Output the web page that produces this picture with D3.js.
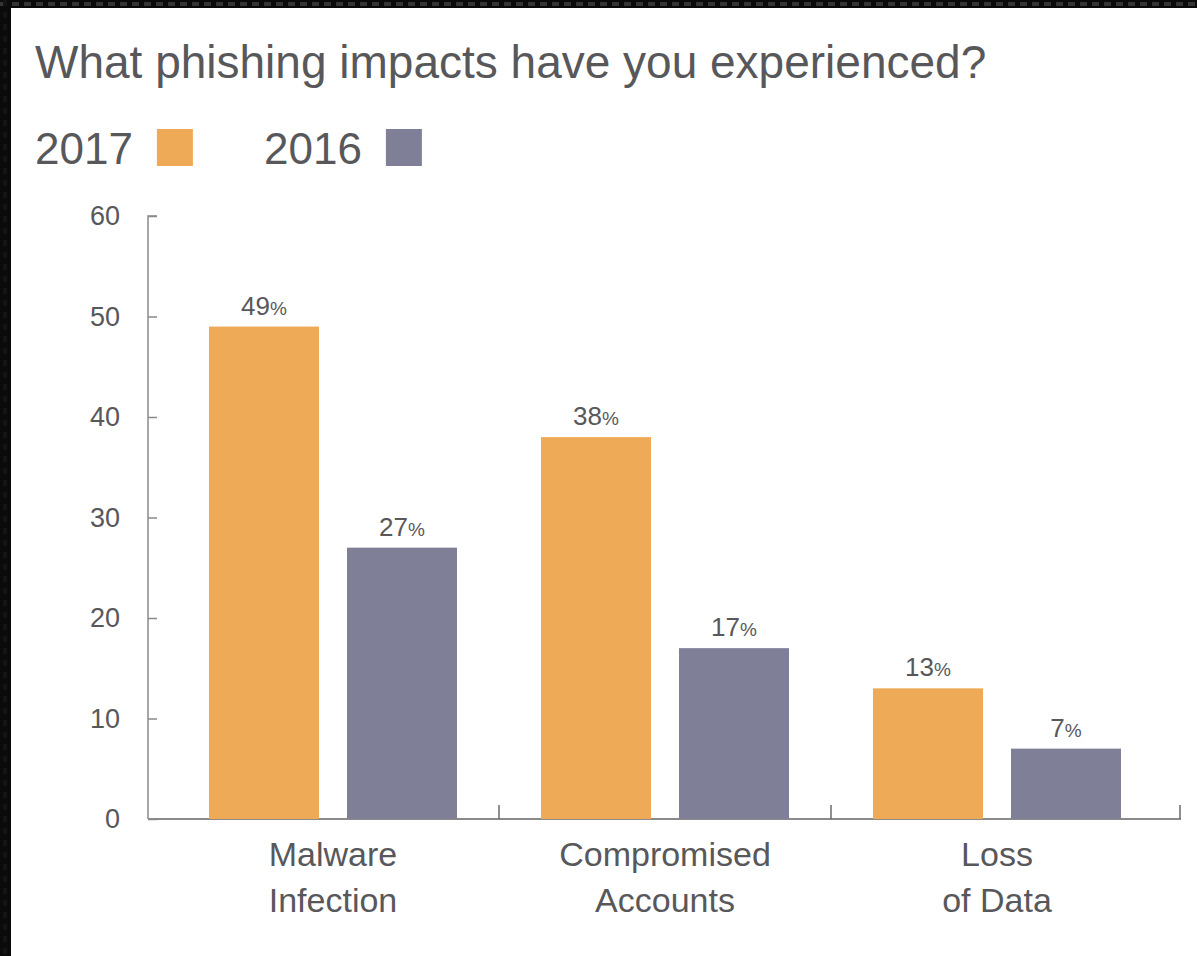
<!DOCTYPE html>
<html>
<head>
<meta charset="utf-8">
<script src="https://cdn.jsdelivr.net/npm/d3@7"></script>
<style>
  html, body { margin: 0; padding: 0; background: #0b0b0b; }
  svg { display: block; }
  text { font-family: "Liberation Sans", Arial, Helvetica, sans-serif; fill: #58585b; }
</style>
</head>
<body>
<svg id="chart" width="1197" height="956"></svg>
<script>
// Survey data: share of respondents reporting each phishing impact
const categories = [["Malware", "Infection"], ["Compromised", "Accounts"], ["Loss", "of Data"]];
const years = ["2017", "2016"];
const values2017 = [49, 38, 13];
const values2016 = [27, 17, 7];
const yTicks = [0, 10, 20, 30, 40, 50, 60];

const colors = { "2017": "#efaa57", "2016": "#7f8098" };
const seriesValues = { "2017": values2017, "2016": values2016 };

const svg = d3.select("#chart");

// dark frame on the left and top, white panel for the chart
svg.append("rect").attr("x", 0).attr("y", 0).attr("width", 1197).attr("height", 956).attr("fill", "#0b0b0b");
svg.append("line").attr("x1", 0).attr("x2", 1197).attr("y1", 4).attr("y2", 4)
  .attr("stroke", "#353535").attr("stroke-width", 4).attr("stroke-dasharray", "7 5");
svg.append("line").attr("x1", 5).attr("x2", 5).attr("y1", 0).attr("y2", 956)
  .attr("stroke", "#141414").attr("stroke-width", 4).attr("stroke-dasharray", "6 6");
svg.append("rect").attr("x", 11).attr("y", 8).attr("width", 1186).attr("height", 948).attr("fill", "#ffffff");

// title
svg.append("text").attr("x", 35).attr("y", 78)
  .style("font-size", "46px").text("What phishing impacts have you experienced?");

// legend
const legendX = [35, 264];
years.forEach((yr, i) => {
  const t = svg.append("text").attr("x", legendX[i]).attr("y", 164)
    .style("font-size", "44px").text(yr);
  const w = t.node().getComputedTextLength();
  svg.append("rect").attr("x", legendX[i] + w + 24).attr("y", 129)
    .attr("width", 36).attr("height", 37).attr("fill", colors[yr]);
});

// scales
const y = d3.scaleLinear().domain([0, 60]).range([819, 216]);
const x0 = d3.scaleBand().domain(d3.range(categories.length)).range([167, 1163]);
const x1 = d3.scaleBand().domain(years).range([42, 290]).paddingInner(28 / 138);

// y axis
const yAxis = d3.axisRight(y).tickValues(yTicks).tickSize(9).tickFormat("");
const gy = svg.append("g").attr("transform", "translate(148,0)").call(yAxis);
gy.selectAll("path, line").attr("stroke", "#8a8a8a").attr("stroke-width", 1.5);
gy.select(".domain").attr("d", `M9,${y(60)}H0V${y(0)}`);

svg.append("g").selectAll("text").data(yTicks).join("text")
  .attr("x", 120).attr("y", d => y(d) + 9)
  .attr("text-anchor", "end").style("font-size", "27px")
  .text(d => d);

// x axis baseline with separators between categories
const axisEnd = 1181;
svg.append("line").attr("x1", 148).attr("x2", axisEnd).attr("y1", y(0)).attr("y2", y(0))
  .attr("stroke", "#8a8a8a").attr("stroke-width", 2);
const sepX = d3.range(1, categories.length).map(i => x0(i)).concat([axisEnd - 1]);
svg.append("g").selectAll("line").data(sepX).join("line")
  .attr("x1", d => d).attr("x2", d => d)
  .attr("y1", y(0)).attr("y2", y(0) - 14)
  .attr("stroke", "#6a6a6a").attr("stroke-width", 1.5);

// bars and value labels
const groups = svg.append("g").selectAll("g").data(categories).join("g")
  .attr("transform", (d, i) => `translate(${x0(i)},0)`);

years.forEach(yr => {
  groups.append("rect")
    .attr("x", x1(yr))
    .attr("y", (d, i) => y(seriesValues[yr][i]))
    .attr("width", x1.bandwidth())
    .attr("height", (d, i) => y(0) - y(seriesValues[yr][i]))
    .attr("fill", colors[yr]);

  const lbl = groups.append("text")
    .attr("x", x1(yr) + x1.bandwidth() / 2)
    .attr("y", (d, i) => y(seriesValues[yr][i]) - 12)
    .attr("text-anchor", "middle")
    .style("font-size", "26px");
  lbl.append("tspan").text((d, i) => seriesValues[yr][i]);
  lbl.append("tspan").style("font-size", "19px").text("%");
});

// category labels
groups.each(function(lines) {
  const g = d3.select(this);
  const cx = x0.bandwidth() / 2;
  lines.forEach((ln, j) => {
    g.append("text").attr("x", cx).attr("y", 866 + j * 46)
      .attr("text-anchor", "middle").style("font-size", "34px").text(ln);
  });
});
</script>
</body>
</html>
